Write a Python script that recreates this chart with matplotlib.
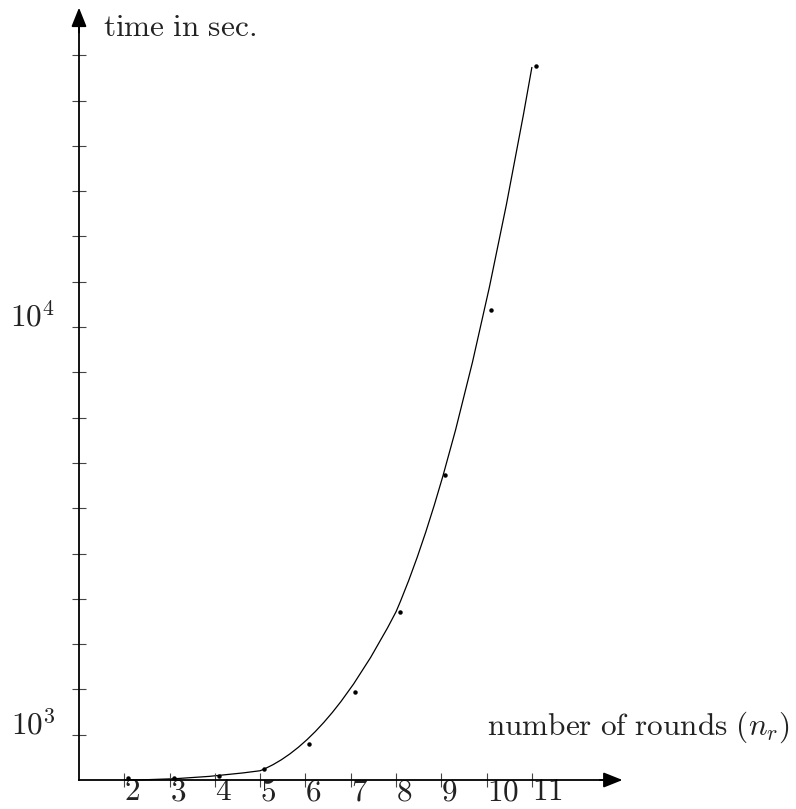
import matplotlib
matplotlib.use('Agg')
import matplotlib.pyplot as plt
from matplotlib.path import Path
from matplotlib.patches import PathPatch
from matplotlib import transforms

plt.rcParams['mathtext.fontset'] = 'cm'

# measured running times (seconds) per number of rounds
rounds = [2, 3, 4, 5, 6, 7, 8, 9, 10, 11]
times = [50, 50, 90, 240, 790, 1935, 3710, 6726, 10370, 15755]

# fitted curve drawn as three quadratic bezier pieces (anchor, control, anchor, ...)
curve_x = [2, 3.5, 5, 6.5, 8, 9.5, 11]
curve_y = [0, 0, 205, 800, 3715, 7180, 15740]

ytick_vals = list(range(1000, 17000, 1000))
ytick_labels = {1000: r'$10^3$', 10000: r'$10^4$'}

fsize = 22.5

fig = plt.figure(figsize=(7.96, 8.09), dpi=100)
ax = fig.add_axes([0, 0, 1, 1])
ax.set_xlim(-0.744, 16.83)
ax.set_ylim(-640, 17219)
ax.patch.set_visible(False)

for s in ['top', 'right']:
    ax.spines[s].set_visible(False)
ax.spines['left'].set_position(('data', 1))
ax.spines['bottom'].set_position(('data', 0))
ax.spines['left'].set_bounds(0, 16700)
ax.spines['bottom'].set_bounds(1, 12.7)
ax.spines['left'].set_linewidth(1.3)
ax.spines['bottom'].set_linewidth(1.3)

# axis arrows
arrow = dict(arrowstyle='-|>,head_length=0.4,head_width=0.16', mutation_scale=29,
             color='black', lw=1.3, shrinkA=0, shrinkB=0)
ax.annotate('', xy=(13.0, 0), xytext=(12.5, 0), arrowprops=arrow)
ax.annotate('', xy=(1, 17050), xytext=(1, 16500), arrowprops=arrow)

ax.set_xticks(rounds)
ax.set_xticklabels(['$%d$' % r for r in rounds])
ax.set_yticks(ytick_vals)
ax.set_yticklabels([ytick_labels.get(v, '') for v in ytick_vals])
ax.tick_params(axis='both', direction='inout', length=10, width=0.8,
               color='#444444', labelsize=fsize, labelcolor='#222222')
ax.tick_params(axis='x', pad=-7)
ax.tick_params(axis='y', pad=12)
for lbl in ax.get_xticklabels():
    lbl.set_horizontalalignment('left')
for lbl in ax.get_yticklabels():
    lbl.set_verticalalignment('baseline')

codes = [Path.MOVETO] + [Path.CURVE3] * (len(curve_x) - 1)
path = Path(list(zip(curve_x, curve_y)), codes)
ax.add_patch(PathPatch(path, facecolor='none', edgecolor='black', lw=0.9))

dot_trans = transforms.offset_copy(ax.transData, fig=fig, x=4, y=0, units='dots')
ax.plot(rounds, times, 'o', color='black', markersize=2.2, transform=dot_trans)

ax.text(1, 17000, r'$\mathrm{time\ in\ sec.}$', fontsize=fsize, color='#222222',
        ha='left', va='baseline',
        transform=transforms.offset_copy(ax.transData, fig=fig, x=24, y=-26, units='dots'))
ax.text(10, 1000, r'$\mathrm{number\ of\ rounds}\ (n_r)$', fontsize=fsize,
        color='#222222', ha='left', va='baseline')

fig.savefig('out.png', dpi=100)
